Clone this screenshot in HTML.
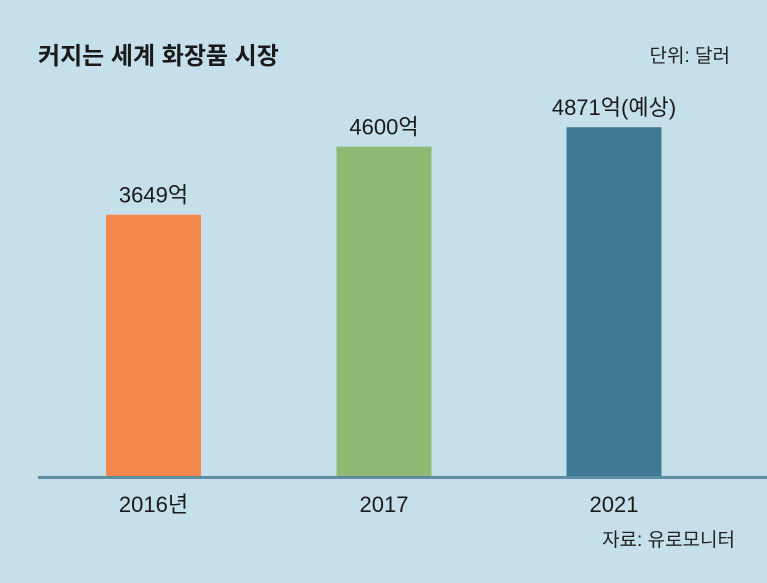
<!DOCTYPE html>
<html><head><meta charset="utf-8">
<style>
body{margin:0;width:767px;height:583px;background:#c5e0eb;overflow:hidden;font-family:"Liberation Sans","Noto Sans CJK KR",sans-serif;}
svg{display:block}
</style></head>
<body>
<svg width="767" height="583">
<text x="38" y="64" font-size="24" font-weight="bold" fill="#1a1a1a" font-family="Liberation Sans, Noto Sans CJK KR, sans-serif">커지는 세계 화장품 시장</text>
<text x="730" y="62" font-size="19" text-anchor="end" fill="#222" font-family="Liberation Sans, Noto Sans CJK KR, sans-serif">단위: 달러</text>
<g id="bars"></g>
<rect x="38" y="476" width="729" height="3" fill="#5d8ea3"/>
<text x="735" y="546" font-size="19" text-anchor="end" fill="#222" font-family="Liberation Sans, Noto Sans CJK KR, sans-serif">자료: 유로모니터</text>
</svg>
<script>
const categories=["2016년","2017","2021"];
const values=[3649,4600,4871];
const valueLabels=["3649억","4600억","4871억(예상)"];
const colors=["#f4874a","#90b976","#3e7a93"];
const baseY=476, pxPerUnit=0.0716, barW=95;
const centers=[153.5,384,614];
function y(v){return baseY-v*pxPerUnit;}
const g=document.getElementById('bars');
const ns="http://www.w3.org/2000/svg";
values.forEach((v,i)=>{
  const r=document.createElementNS(ns,'rect');
  
  
  r.setAttribute('x',centers[i]-barW/2);r.setAttribute('y',y(v));
  r.setAttribute('width',barW);r.setAttribute('height',baseY-y(v));
  r.setAttribute('fill',colors[i]);g.appendChild(r);
  const t=document.createElementNS(ns,'text');
  
  
  t.setAttribute('x',centers[i]);t.setAttribute('y',y(v)-12);
  t.setAttribute('text-anchor','middle');t.setAttribute('font-size','22');t.setAttribute('fill','#1a1a1a');
  t.textContent=valueLabels[i];g.appendChild(t);
  const c=document.createElementNS(ns,'text');
  
  
  c.setAttribute('x',centers[i]);c.setAttribute('y',512);
  c.setAttribute('text-anchor','middle');c.setAttribute('font-size','22');c.setAttribute('fill','#1a1a1a');
  c.textContent=categories[i];g.appendChild(c);
});
</script>
</body></html>
